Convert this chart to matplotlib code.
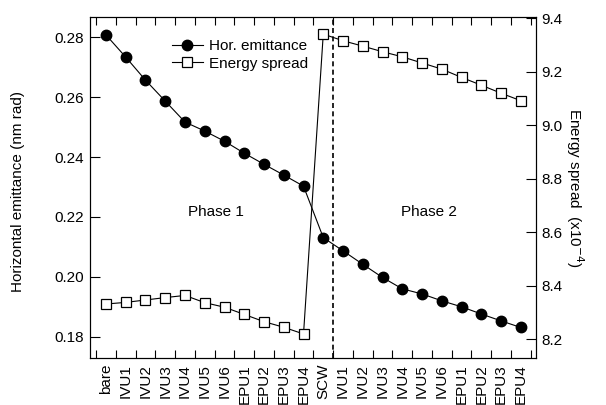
import matplotlib
matplotlib.use("Agg")
import matplotlib.pyplot as plt
from matplotlib.ticker import FixedLocator, FormatStrFormatter

plt.rcParams["font.family"] = ["Liberation Sans", "DejaVu Sans"]
plt.rcParams["font.size"] = 11

# Data
devices = ["bare", "IVU1", "IVU2", "IVU3", "IVU4", "IVU5", "IVU6",
           "EPU1", "EPU2", "EPU3", "EPU4", "SCW",
           "IVU1", "IVU2", "IVU3", "IVU4", "IVU5", "IVU6",
           "EPU1", "EPU2", "EPU3", "EPU4"]
emittance = [0.2808, 0.2734, 0.2657, 0.2587, 0.2517, 0.2487, 0.2453,
             0.2413, 0.2376, 0.2340, 0.2303, 0.2131,
             0.2087, 0.2042, 0.1998, 0.1960, 0.1943, 0.1920,
             0.1900, 0.1876, 0.1853, 0.1831]
energy_spread = [8.332, 8.338, 8.347, 8.356, 8.364, 8.337, 8.320,
                 8.293, 8.266, 8.245, 8.220, 9.341,
                 9.316, 9.296, 9.275, 9.256, 9.233, 9.210,
                 9.179, 9.150, 9.120, 9.092]
phase_split = 11.5

x = list(range(len(devices)))

fig = plt.figure(figsize=(6.06, 4.05), dpi=100)
ax = fig.add_axes([0.1485, 0.1153, 0.736, 0.8435])
ax2 = ax.twinx()

l1, = ax.plot(x, emittance, color="black", lw=0.8, marker="o",
              markersize=7.5, markerfacecolor="black", label="Hor. emittance")
l2, = ax2.plot(x, energy_spread, color="black", lw=0.8, marker="s",
               markersize=7.5, markerfacecolor="white", markeredgewidth=0.9,
               label="Energy spread")

ax.axvline(phase_split, color="black", lw=1.2, linestyle=(0, (3, 2)))

ax.set_xlim(-0.81, 21.77)
ax.set_ylim(0.1728, 0.2869)
ax2.set_ylim(8.129, 9.406)

ax.set_yticks([0.18, 0.20, 0.22, 0.24, 0.26, 0.28])
ax.yaxis.set_major_formatter(FormatStrFormatter("%.2f"))
ax2.set_yticks([8.2, 8.4, 8.6, 8.8, 9.0, 9.2, 9.4])
ax2.yaxis.set_major_formatter(FormatStrFormatter("%.1f"))

ax.set_xticks(x)
ax.set_xticklabels(devices, rotation=90)
ax.xaxis.set_minor_locator(FixedLocator([i - 0.5 for i in range(len(devices) + 1)]))
ax.tick_params(axis="x", which="major", length=0, pad=4)
ax.tick_params(axis="x", which="minor", direction="in", length=6, width=0.8,
               top=True, bottom=True)
ax.tick_params(axis="y", direction="in", length=7, width=0.8, pad=4)
ax2.tick_params(axis="y", direction="in", length=7, width=0.8, pad=4)

for a in (ax, ax2):
    for s in a.spines.values():
        s.set_linewidth(0.8)

ax.set_ylabel("Horizontal emittance (nm rad)", va="center")
ax.yaxis.set_label_coords(-0.161, 0.487)
ax2.set_ylabel("Energy spread  (x10$^{-4}$)", rotation=270, va="center")
ax2.yaxis.set_label_coords(1.087, 0.50)

ax.text(5.55, 0.2218, "Phase 1", ha="center", va="center")
ax.text(16.35, 0.2218, "Phase 2", ha="center", va="center")

ax.legend([l1, l2], ["Hor. emittance", "Energy spread"], frameon=False,
          loc="upper left", bbox_to_anchor=(0.184, 0.935), borderpad=0,
          borderaxespad=0, handlelength=2.0, handletextpad=0.4,
          labelspacing=0.25)

fig.savefig("out.png", dpi=100)
